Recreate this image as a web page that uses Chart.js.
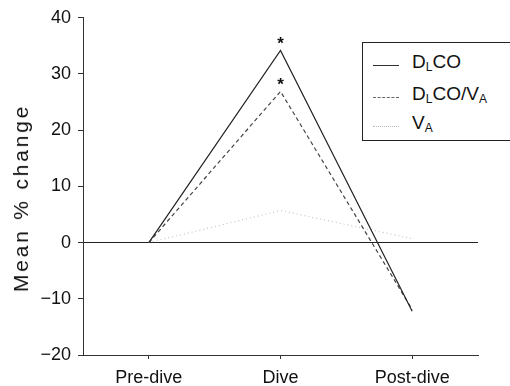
<!DOCTYPE html>
<html>
<head>
<meta charset="utf-8">
<script src="https://cdn.jsdelivr.net/npm/chart.js@4"></script>
<style>
  html, body { margin: 0; padding: 0; background: #fff; }
  #wrap { position: relative; width: 510px; height: 386px; }
  #ytitle {
    position: absolute; left: 21px; top: 198px; white-space: nowrap;
    transform: translate(-50%, -50%) rotate(-90deg);
    font-family: Arial, "Liberation Sans", sans-serif; font-size: 21px; letter-spacing: 2.8px; color: #111;
  }
  #legend {
    position: absolute; left: 362px; top: 42px; width: 160px; height: 99px;
    border: 1px solid #222; box-sizing: border-box; background: #fff;
    font-family: Arial, "Liberation Sans", sans-serif; font-size: 19px; color: #111;
  }
  .row { position: absolute; left: 0; height: 22px; }
  .row .smp { position: absolute; left: 10px; top: 14px; width: 26px; height: 0; }
  .row .txt { position: absolute; left: 49px; top: 0; white-space: nowrap; line-height: 22px; }
  .row sub { font-size: 12px; vertical-align: -3px; }
</style>
</head>
<body>
<div id="wrap">
  <canvas id="chart" width="510" height="386"></canvas>
  <div id="ytitle">Mean % change</div>
  <div id="legend">
    <div class="row" style="top:8px"><div class="smp" style="border-top:1px solid #333"></div><div class="txt">D<sub>L</sub>CO</div></div>
    <div class="row" style="top:40px"><div class="smp" style="border-top:1px dashed #666"></div><div class="txt">D<sub>L</sub>CO/V<sub>A</sub></div></div>
    <div class="row" style="top:69px"><div class="smp" style="border-top:1px dotted #bbb"></div><div class="txt">V<sub>A</sub></div></div>
  </div>
</div>
<script>
// values
const stages = ['Pre-dive', 'Dive', 'Post-dive'];
const dlco = [0, 34.2, -12.2];
const dlcoVa = [0, 26.9, -11.9];
const va = [0, 5.7, 0.7];
const yTicks = [-20, -10, 0, 10, 20, 30, 40];
const starred = [0, 1]; // datasets with * at Dive

const font = 'Arial, "Liberation Sans", sans-serif';

// asterisks above significant points
const starPlugin = {
    id: 'stars',
    afterDatasetsDraw(chart) {
        const ctx = chart.ctx;
        ctx.save();
        ctx.fillStyle = '#111';
        ctx.font = 'bold 17px ' + font;
        ctx.textAlign = 'center';
        starred.forEach(i => {
            const pt = chart.getDatasetMeta(i).data[1];
            ctx.fillText('*', pt.x, pt.y - 1);
        });
        ctx.restore();
    }
};

new Chart(document.getElementById('chart'), {
    type: 'line',
    data: {
        labels: stages,
        datasets: [
            { data: dlco, borderColor: '#222', borderWidth: 1.2, pointRadius: 0, tension: 0 },
            { data: dlcoVa, borderColor: '#444', borderWidth: 1.2, borderDash: [4, 3], pointRadius: 0, tension: 0 },
            { data: va, borderColor: '#c4c4c4', borderWidth: 1.2, borderDash: [1, 3], pointRadius: 0, tension: 0 }
        ]
    },
    options: {
        responsive: false,
        animation: false,
        layout: { padding: { top: 16, right: 32, left: 0, bottom: 0 } },
        plugins: { legend: { display: false }, tooltip: { enabled: false } },
        scales: {
            x: {
                offset: true,
                grid: { display: true, drawOnChartArea: false, drawTicks: true, tickLength: 4, color: '#333', offset: false },
                border: { color: '#333', width: 1 },
                ticks: { color: '#111', font: { family: font, size: 18 }, padding: 8 },
                afterFit(scale) { scale.height = 31; }
            },
            y: {
                min: -20, max: 40,
                afterBuildTicks(scale) { scale.ticks = yTicks.map(v => ({ value: v })); },
                grid: {
                    drawTicks: true, tickLength: 5,
                    color: c => (c.tick && c.tick.value === 0 ? '#222' : 'rgba(0,0,0,0)'),
                    tickColor: '#333',
                    lineWidth: 1
                },
                border: { color: '#333', width: 1 },
                ticks: {
                    color: '#111', font: { family: font, size: 18 }, padding: 7,
                    callback: v => (v < 0 ? '\u2212' + Math.abs(v) : String(v))
                },
                afterFit(scale) { scale.width = 83; }
            }
        }
    },
    plugins: [starPlugin]
});
</script>
</body>
</html>
